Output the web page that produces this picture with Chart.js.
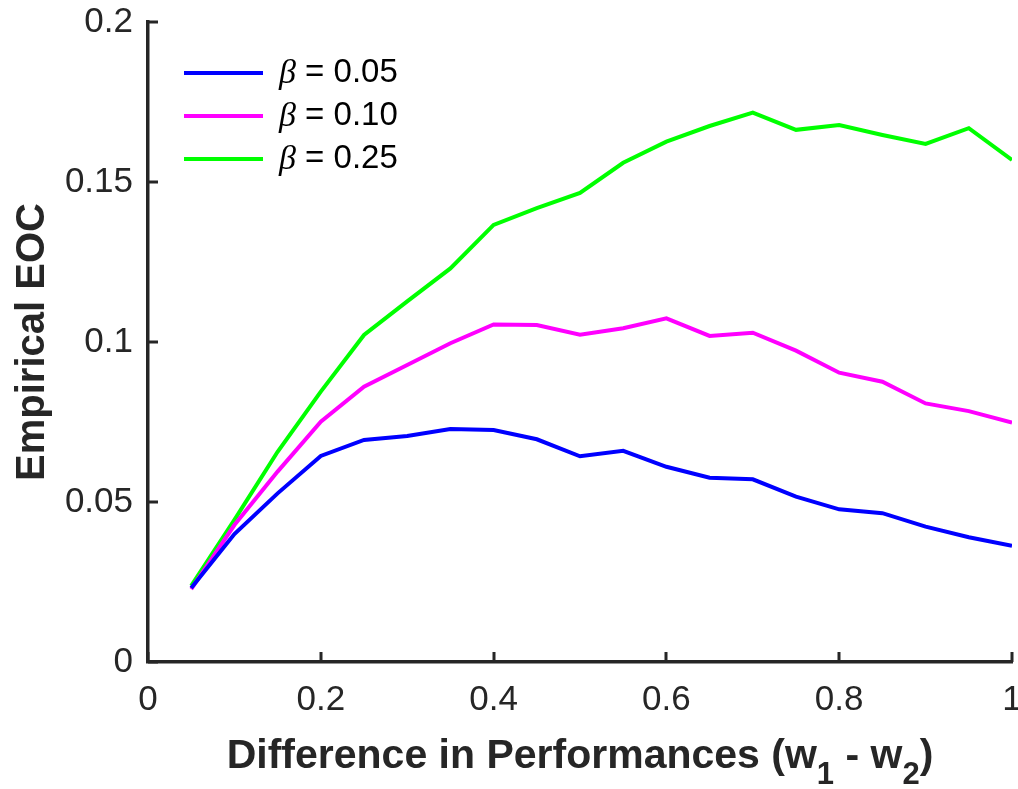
<!DOCTYPE html>
<html>
<head>
<meta charset="utf-8">
<script src="https://cdn.jsdelivr.net/npm/chart.js@4/dist/chart.umd.min.js"></script>
<style>
    body { margin: 0; background: #fff; }
    #wrap { width: 1018px; height: 789px; position: relative; }
</style>
</head>
<body>
<div id="wrap"><canvas id="myChart"></canvas></div>
<script>
// x positions (difference in performances)
var xValues = [0.05, 0.10, 0.15, 0.20, 0.25, 0.30, 0.35, 0.40, 0.45, 0.50,
               0.55, 0.60, 0.65, 0.70, 0.75, 0.80, 0.85, 0.90, 0.95, 1.00];

// empirical EOC for each beta
var eocBeta005 = [0.0231, 0.0400, 0.0527, 0.0644, 0.0694, 0.0706, 0.0728, 0.0725, 0.0696, 0.0643,
                  0.0660, 0.0610, 0.0576, 0.0571, 0.0517, 0.0477, 0.0465, 0.0423, 0.0390, 0.0363];
var eocBeta010 = [0.0228, 0.0428, 0.0595, 0.0751, 0.0860, 0.0928, 0.0996, 0.1055, 0.1053, 0.1023,
                  0.1043, 0.1074, 0.1019, 0.1029, 0.0973, 0.0904, 0.0876, 0.0808, 0.0784, 0.0748];
var eocBeta025 = [0.0238, 0.0444, 0.0657, 0.0845, 0.1022, 0.1127, 0.1230, 0.1366, 0.1418, 0.1466,
                  0.1560, 0.1626, 0.1675, 0.1717, 0.1663, 0.1678, 0.1647, 0.1619, 0.1668, 0.1569];

var betaLabels = ['0.05', '0.10', '0.25'];
var lineColors = ['#0000ff', '#ff00ff', '#00ff00'];
var xTitle = ['Difference in Performances (w', '1', ' - w', '2', ')'];
var yTitle = 'Empirical EOC';

var axisColor = '#262626';

function toPoints(ys) {
    return xValues.map(function (x, i) { return { x: x, y: ys[i] }; });
}

function tickText(v) {
    return String(Number(v.toFixed(2)));
}

// MATLAB style: ticks pointing inward, legend with italic beta, x title with subscripts
var matlabLook = {
    id: 'matlabLook',
    afterDraw: function (chart) {
        var ctx = chart.ctx;
        var area = chart.chartArea;
        var xs = chart.scales.x;
        var ys = chart.scales.y;
        ctx.save();
        ctx.strokeStyle = axisColor;
        ctx.lineWidth = 3;
        ctx.beginPath();
        xs.ticks.forEach(function (t) {
            var px = Math.round(xs.getPixelForValue(t.value));
            ctx.moveTo(px, area.bottom);
            ctx.lineTo(px, area.bottom - 10);
        });
        ys.ticks.forEach(function (t) {
            var py = Math.round(ys.getPixelForValue(t.value));
            ctx.moveTo(area.left, py);
            ctx.lineTo(area.left + 10, py);
        });
        ctx.stroke();

        // legend
        chart.data.datasets.forEach(function (ds, i) {
            var y = area.top + 51 + i * 43;
            ctx.strokeStyle = ds.borderColor;
            ctx.lineWidth = 4;
            ctx.beginPath();
            ctx.moveTo(area.left + 36, y);
            ctx.lineTo(area.left + 115, y);
            ctx.stroke();
            ctx.fillStyle = '#000';
            ctx.textBaseline = 'middle';
            ctx.textAlign = 'left';
            ctx.font = 'italic 34px "Liberation Serif"';
            var tx = area.left + 131;
            ctx.fillText('\u03b2', tx, y + 1);
            tx += ctx.measureText('\u03b2').width;
            ctx.font = '33px "Liberation Sans"';
            ctx.fillText(' = ' + betaLabels[i], tx, y);
        });

        // x title
        var mainFont = 'bold 41px "Liberation Sans"';
        var subFont = 'bold 31px "Liberation Sans"';
        var total = 0;
        xTitle.forEach(function (s, i) {
            ctx.font = i % 2 ? subFont : mainFont;
            total += ctx.measureText(s).width;
        });
        var cx = (area.left + area.right) / 2 - total / 2;
        var base = 768;
        ctx.fillStyle = axisColor;
        ctx.textBaseline = 'alphabetic';
        xTitle.forEach(function (s, i) {
            ctx.font = i % 2 ? subFont : mainFont;
            ctx.fillText(s, cx, i % 2 ? base + 16 : base);
            cx += ctx.measureText(s).width;
        });
        ctx.restore();
    }
};

const ctx = document.getElementById('myChart').getContext('2d');
const config = {
    type: 'line',
    data: {
        datasets: [
            { label: 'beta = 0.05', data: toPoints(eocBeta005), borderColor: lineColors[0] },
            { label: 'beta = 0.10', data: toPoints(eocBeta010), borderColor: lineColors[1] },
            { label: 'beta = 0.25', data: toPoints(eocBeta025), borderColor: lineColors[2] }
        ]
    },
    options: {
        responsive: true,
        maintainAspectRatio: false,
        animation: false,
        layout: { padding: { top: 22, right: 6, left: 0, bottom: 0 } },
        elements: {
            line: { borderWidth: 4, tension: 0, fill: false },
            point: { radius: 0 }
        },
        plugins: {
            legend: { display: false },
            tooltip: { enabled: false }
        },
        scales: {
            x: {
                type: 'linear',
                min: 0,
                max: 1,
                grid: { display: false, drawTicks: false },
                border: { display: true, color: axisColor, width: 3.5 },
                ticks: {
                    stepSize: 0.2,
                    padding: 17,
                    color: axisColor,
                    font: { family: 'Liberation Sans', size: 35 },
                    maxRotation: 0,
                    callback: function (v) { return tickText(v); }
                },
                afterFit: function (scale) {
                    scale.height = 127;
                    scale.paddingLeft = 0;
                    scale.paddingRight = 0;
                }
            },
            y: {
                min: 0,
                max: 0.2,
                grid: { display: false, drawTicks: false },
                border: { display: true, color: axisColor, width: 3.5 },
                ticks: {
                    stepSize: 0.05,
                    padding: 15,
                    color: axisColor,
                    font: { family: 'Liberation Sans', size: 35 },
                    callback: function (v) { return tickText(v); }
                },
                title: {
                    display: true,
                    text: yTitle,
                    color: axisColor,
                    padding: { top: 9, bottom: 0 },
                    font: { family: 'Liberation Sans', size: 40, weight: 'bold' }
                },
                afterFit: function (scale) {
                    scale.width = 148;
                    scale.paddingTop = 0;
                    scale.paddingBottom = 0;
                }
            }
        }
    },
    plugins: [matlabLook]
};

const myChart = new Chart(ctx, config);
</script>
</body>
</html>
